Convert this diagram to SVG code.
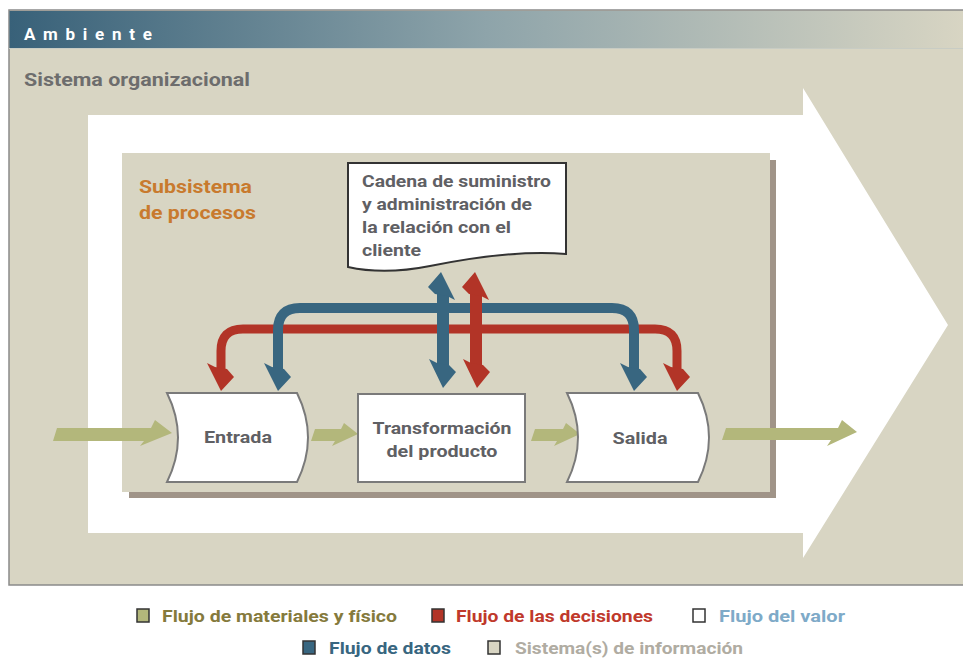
<svg xmlns="http://www.w3.org/2000/svg" width="963" height="658" viewBox="0 0 963 658">
<defs>
<linearGradient id="hdr" x1="0" y1="0" x2="1" y2="0">
<stop offset="0" stop-color="#386179"/>
<stop offset="0.5" stop-color="#8ea4aa"/>
<stop offset="1" stop-color="#d8d5c3"/>
</linearGradient>
<style>
.t{font-family:Roboto,"Liberation Sans",sans-serif;font-weight:bold}
.node{fill:#fff;stroke:#7a7a7a;stroke-width:2}
.nt{font-size:17px;fill:#5f6064;text-anchor:middle}
.green{fill:#b3b77b}
.blueS{fill:none;stroke:#386680;stroke-width:10}
.redS{fill:none;stroke:#b23427;stroke-width:9}
.blueF{fill:#386680}
.redF{fill:#b23427}
.lg{font-size:16px}
.sq{stroke:#333;stroke-width:1.5}
</style>
</defs>
<rect x="0" y="0" width="963" height="658" fill="#fff"/>
<g id="ambiente">
<rect x="9" y="10" width="960" height="575" fill="#d8d5c3" stroke="#8a8a8a" stroke-width="1.5"/>
<rect x="9.5" y="11" width="955" height="37" fill="url(#hdr)"/>
<line x1="9" y1="48.5" x2="963" y2="48.5" stroke="#c8ccc4" stroke-width="1"/>
<text class="t" x="24" y="40" font-size="17" fill="#fff" textLength="128" lengthAdjust="spacing">Ambiente</text>
<text class="t" x="24" y="86" font-size="18" fill="#6d6d6d" textLength="226" lengthAdjust="spacingAndGlyphs">Sistema organizacional</text>
</g>
<g id="sistema-organizacional">
<polygon points="88,115 803,115 803,88 948,325 803,558 803,533 88,533" fill="#fff"/>
</g>
<g id="subsistema">
<rect x="129" y="160" width="647" height="338" fill="#a09488"/>
<rect x="122" y="153" width="648" height="339" fill="#d8d5c3"/>
<text class="t" x="139" y="193" font-size="18" fill="#c87a2e" textLength="113" lengthAdjust="spacingAndGlyphs">Subsistema</text>
<text class="t" x="139" y="219" font-size="18" fill="#c87a2e" textLength="117" lengthAdjust="spacingAndGlyphs">de procesos</text>
</g>
<g id="connectors">
<path class="redS" d="M221,372 V351 Q221,329 243,329 H655 Q677,329 677,351 V372"/>
<path class="blueS" d="M278,372 V330 Q278,308 300,308 H612 Q634,308 634,330 V372"/>
<polygon class="redF" points="221,391 207,363 215,367 227,369 234,377"/>
<polygon class="redF" points="677,391 663,363 671,367 683,369 690,377"/>
<polygon class="blueF" points="278,391 264,363 272,367 284,369 291,377"/>
<polygon class="blueF" points="634,391 620,363 628,367 640,369 647,377"/>
<rect class="blueF" x="437" y="290" width="12" height="78"/>
<polygon class="blueF" points="441,272 455,300 447,296 435,294 428,287"/>
<polygon class="blueF" points="443,388 429,359 437,363 449,365 456,372"/>
<rect class="redF" x="470" y="290" width="12" height="78"/>
<polygon class="redF" points="475,272 489,300 481,296 469,294 462,287"/>
<polygon class="redF" points="477,388 463,359 471,363 483,365 490,372"/>
<polygon class="green" points="57,428 151,428 155,420 172,433 140,446 144,441 53,441"/>
<polygon class="green" points="315,429 341,429 344,423 358,434 332,446 335,441 311,441"/>
<polygon class="green" points="535,429 563,429 566,423 580,434 554,446 557,441 531,441"/>
<polygon class="green" points="726,428 838,428 842,420 857,432 827,446 831,440 722,440"/>
</g>
<g id="cadena">
<path d="M348,163 H566 V254 C520,250 470,258 430,266 C400,272 375,273 348,267 Z" fill="#fff" stroke="#333" stroke-width="2"/>
<text class="t" font-size="17" fill="#5f6064"><tspan x="362" y="187" textLength="189" lengthAdjust="spacingAndGlyphs">Cadena de suministro</tspan><tspan x="362" y="210" textLength="170" lengthAdjust="spacingAndGlyphs">y administración de</tspan><tspan x="362" y="233" textLength="149" lengthAdjust="spacingAndGlyphs">la relación con el</tspan><tspan x="362" y="256" textLength="59" lengthAdjust="spacingAndGlyphs">cliente</tspan></text>
</g>
<g id="entrada">
<path class="node" d="M167,393 H297 Q319,437.5 297,482 H167 Q189,437.5 167,393 Z"/>
<text class="t nt" x="238" y="443" textLength="68" lengthAdjust="spacingAndGlyphs">Entrada</text>
</g>
<g id="transformacion">
<rect class="node" x="358" y="394" width="167" height="88"/>
<text class="t nt" x="442" y="434" textLength="139" lengthAdjust="spacingAndGlyphs">Transformación</text>
<text class="t nt" x="442" y="457" textLength="111" lengthAdjust="spacingAndGlyphs">del producto</text>
</g>
<g id="salida">
<path class="node" d="M567,393 H698 Q720,437.5 698,482 H567 Q589,437.5 567,393 Z"/>
<text class="t nt" x="640" y="444" textLength="55" lengthAdjust="spacingAndGlyphs">Salida</text>
</g>
<g id="legend">
<rect class="sq" x="137" y="609" width="12" height="13" fill="#b3b77b"/>
<text class="t lg" x="162" y="622" fill="#857a3c" textLength="235" lengthAdjust="spacingAndGlyphs">Flujo de materiales y físico</text>
<rect class="sq" x="432" y="609" width="12" height="13" fill="#b23427"/>
<text class="t lg" x="456" y="622" fill="#c0392b" textLength="197" lengthAdjust="spacingAndGlyphs">Flujo de las decisiones</text>
<rect class="sq" x="693" y="609" width="12" height="13" fill="#fff"/>
<text class="t lg" x="719" y="622" fill="#7eaac8" textLength="126" lengthAdjust="spacingAndGlyphs">Flujo del valor</text>
<rect class="sq" x="303" y="641" width="12" height="13" fill="#386680"/>
<text class="t lg" x="329" y="654" fill="#386680" textLength="122" lengthAdjust="spacingAndGlyphs">Flujo de datos</text>
<rect class="sq" x="488" y="641" width="12" height="13" fill="#d8d5c3"/>
<text class="t lg" x="515" y="654" fill="#b0aca2" textLength="228" lengthAdjust="spacingAndGlyphs">Sistema(s) de información</text>
</g>
</svg>
